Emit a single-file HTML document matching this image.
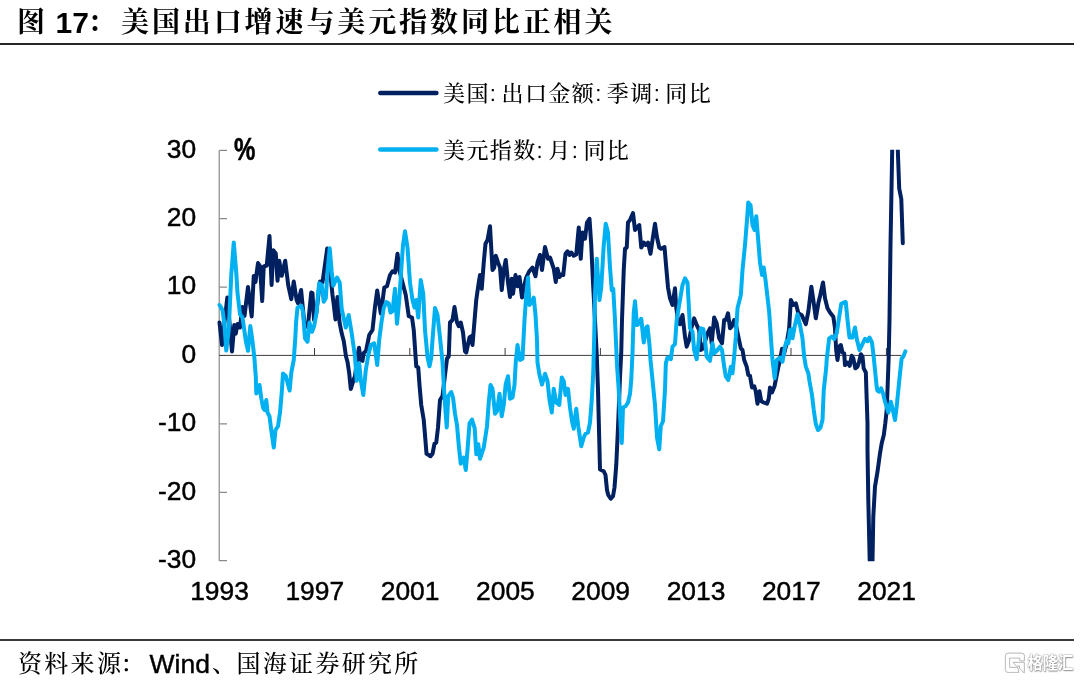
<!DOCTYPE html>
<html lang="zh-CN">
<head>
<meta charset="utf-8">
<title>图 17: 美国出口增速与美元指数同比正相关</title>
<style>
html,body{margin:0;padding:0;background:#fff;}
body{width:1080px;height:680px;position:relative;overflow:hidden;font-family:"Liberation Sans","Noto Serif CJK SC",serif;color:#000;}
.abs{position:absolute;white-space:nowrap;line-height:1;}
#title{left:0;top:6px;font-size:28px;font-weight:700;letter-spacing:2.9px;width:700px;height:34px;}
#title span{position:absolute;top:0;line-height:34px;}
#title .lat{font-size:30px;letter-spacing:0;}
#rule1{left:0;top:43.2px;width:1074.3px;height:1.7px;background:#262626;}
#rule2{left:0;top:639.2px;width:1074.3px;height:1.7px;background:#3a3a3a;}
#src{left:0;top:648px;font-weight:500;font-size:24px;letter-spacing:2.3px;width:600px;height:32px;}
#src span{position:absolute;top:0;line-height:32px;}
#src .lat{font-size:26.5px;letter-spacing:0;font-weight:400;-webkit-text-stroke:0.4px #000;}
.leg{font-weight:500;font-size:22px;letter-spacing:1.4px;word-spacing:-3.3px;}
#wm{left:1027.5px;top:654.3px;font-size:15.3px;line-height:18px;color:#fff;font-family:"Liberation Sans","Noto Sans CJK SC",sans-serif;font-weight:700;text-shadow:0 0 1.4px #8a8a8a,0 0 1.4px #9a9a9a,0.4px 0.6px 1.2px #999;transform:scale(1,1.08);transform-origin:0 0;}
svg{position:absolute;left:0;top:0;}
svg text{font-family:"Liberation Sans",sans-serif;font-size:26.4px;fill:#000;stroke:#000;stroke-width:0.45px;}
</style>
</head>
<body>
<div id="title" class="abs"><span style="left:17px">图</span><span class="lat" style="left:55.5px">17</span><span style="left:87.5px">：</span><span style="left:121px">美国出口增速与美元指数同比正相关</span></div>
<div id="rule1" class="abs"></div>
<div id="l1" class="abs leg" style="left:443px;top:83px;">美国: 出口金额: 季调: 同比</div>
<div id="l2" class="abs leg" style="left:443px;top:139.5px;">美元指数: 月: 同比</div>
<svg width="1080" height="680" viewBox="0 0 1080 680">
<!-- legend swatches -->
<line x1="380.3" y1="93" x2="436.4" y2="93" stroke="#002060" stroke-width="4.5" stroke-linecap="round"/>
<line x1="380.3" y1="149.4" x2="436.4" y2="149.4" stroke="#00b0f0" stroke-width="4.5" stroke-linecap="round"/>
<!-- axes -->
<g stroke="#8a8a8a" stroke-width="1.2" fill="none">
<path d="M219.2 150.3V560.7"/>
<path d="M219.2 150.3H227M219.2 218.7H227M219.2 287.1H227M219.2 355.5H227M219.2 423.9H227M219.2 492.3H227M219.2 560.7H227"/>
</g>
<g stroke="#3c3c3c" stroke-width="1" fill="none">
<path d="M219.2 355.4H901.5"/>
<path d="M314.5 355.4v-7.4M409.8 355.4v-7.4M505.1 355.4v-7.4M600.4 355.4v-7.4M695.7 355.4v-7.4M791 355.4v-7.4M886.4 355.4v-7.4"/>
</g>
<g text-anchor="end">
<text x="196.2" y="157.6">30</text>
<text x="196.2" y="226.0">20</text>
<text x="196.2" y="294.4">10</text>
<text x="196.2" y="362.8">0</text>
<text x="196.2" y="431.2">-10</text>
<text x="196.2" y="499.6">-20</text>
<text x="196.2" y="568.0">-30</text>
</g>
<text x="233.6" y="159" font-weight="700" font-size="24.4" stroke="none" transform="translate(21.5,-24.1) scale(0.91,1.16)">%</text>
<g text-anchor="middle">
<text x="219.5" y="600">1993</text>
<text x="314.8" y="600">1997</text>
<text x="410.1" y="600">2001</text>
<text x="505.4" y="600">2005</text>
<text x="600.7" y="600">2009</text>
<text x="696.0" y="600">2013</text>
<text x="791.3" y="600">2017</text>
<text x="886.6" y="600">2021</text>
</g>
<!--SERIES-->
<defs><clipPath id="plot"><rect x="215" y="149.8" width="700" height="411.5"/></clipPath></defs>
<g clip-path="url(#plot)" fill="none" stroke-linejoin="round" stroke-linecap="round" stroke-width="4">
<path stroke="#002060" d="M219.5,322.5 222,345 227.3,297.5 232,351.5 234.25,325 235.75,333.75 237.5,324 240,327.5 242.4,307 244.5,316 248,287 251.7,316.5 253.75,276 255.5,282 258,263 260,266 262.2,301 263.75,266.5 266.75,265.5 269.5,236 271.6,285 273.25,250.3 275.75,253.5 277.5,280.7 279.25,260.8 281.75,275.8 285.2,260.8 288.2,285 291.25,299.2 293.75,281.5 296.6,300 298,303.25 301.1,290 304.5,325 305.5,327 308.25,322.5 311.25,292.5 312.5,293 314,320 316,315 320,281.5 322.5,282.5 327.2,248.5 330,270 332.5,295 333.8,305 335.5,319.4 337.5,297 339.5,322 341.7,333.3 343.75,341 346,356.5 347.5,361.7 349.2,373.3 350.8,389 353.3,380.8 355,376 357.5,356.7 359,347.7 360.8,360 362.5,360.8 363.75,353 366,351 368.75,337.5 369.2,335 372.5,330 375,306.7 377.2,290.5 379,302 380.8,313.5 382.7,300 384.25,287.5 387,286.25 390,275 392.5,271.25 395,272.5 397.5,253.75 399.25,270 402.5,282.5 405.75,295 408.75,316.25 412,317.5 413.75,330 415.5,355.5 416.25,366.25 418.25,367.5 419.5,385 421.25,405 423.75,420 425,435 426.5,453.75 428.75,455 430.5,456.25 432.5,453.75 434.5,443.75 436.25,442.5 438,427.5 440,400 442.5,396 445,375 447,358.75 448.75,356.25 450,322.5 452.5,320 454.5,307 457,322.5 458.75,326.25 460.75,322.5 463,332.5 465,351.25 466.25,352.5 469.5,337.5 471.25,336.25 472.5,345 476.25,300 478.75,282.5 480,275 481.75,288.75 483.75,262.5 485.5,243.75 487.5,240 490,226.25 492.5,270 494.25,267.5 495.75,255.75 498,262.5 500,267.5 501.75,290 503.75,270 505.75,260 508,282.5 510,297 511.75,278.75 513,293.75 515.5,275 517.5,286.25 519.5,277 522,297.5 523.75,287.5 526.25,277.5 529.25,271.25 532.5,267.5 535.5,276.25 537.5,262.5 540,255 542,270 545,247 548,258.75 550,257.5 553.75,268.75 555.75,282 557.5,268.75 559.5,277 561.25,274.5 563.25,275 565.5,253.75 567.5,251.25 569.5,255 571.25,252.5 573.75,255.75 576.25,254.5 578.75,227.5 580.75,258.75 582.5,232.5 585,238.75 587,222.5 589.5,218.75 591.25,245 593,282.5 595,320 596.75,355 598,390 599.25,440 600,469.5 603.75,471.25 605.5,475 607,490 608.25,495 610.75,498.75 613,496.25 614.5,487.5 616.25,465 618,427.5 620,377.5 621.25,352.5 622,320 623.75,270 625,248.75 626.75,247.5 628,222.5 630,220 633,213 635,230 637,227.5 639.25,225 641.25,247.5 643.75,242.5 645.75,245 648,242.5 650.5,253.75 652.5,240 655,223.75 657,237.5 659.25,247.5 661.25,248.75 664.5,247 666.25,267.5 668,287.5 670,298.33 672.5,305 675,288.33 676.17,306.67 678.33,323.33 680,324.17 682.5,315 685,336.67 686.67,346.67 689.17,340 691.67,326.67 694.17,318.33 696.67,325 699.17,330 700.83,350 703,348.33 705,341.67 707.5,333.33 710,328.33 711.67,343.33 714.17,317.5 716.67,323.33 719.17,338.33 722,343.33 724.17,320 725.83,320 728,313.33 730,328.33 731.67,326.67 734.17,320 736.67,328.33 738.33,336.67 740.83,348.33 742.5,350 744.17,360 746.67,366.67 748.33,375 750,375.83 752,387.5 754.25,386.25 755.75,391.25 757.5,403.75 759.5,391.25 761.25,401.25 763.75,402.5 767,403.75 768.75,398.75 770,387.5 772,392.5 774.5,386.25 776.25,377.5 778.25,367.5 780,360 782,348.75 784.17,353.33 786.67,343.33 789.17,328.33 790.83,300 793.33,305 795.83,303.33 798.33,313.33 801.67,315 805.83,324.17 808.33,311.67 811.33,286.67 813.33,300 815.83,318.33 818.33,303.33 820.33,295 823,282.5 825,298.33 827.5,308.33 830,312.5 833.33,316.67 835,328.33 836.17,350 837.5,360 839.17,346.67 840.83,345 842.5,352.5 844.17,353.33 845,365 847.5,362.5 849.67,365.83 851.67,355.83 853.33,358.33 855.33,368.33 857.5,366.67 859.17,361.67 860.83,354.17 862.5,356.67 863.67,368.33 865.83,372.5 866.67,398.33 867.5,423.33 867.5,450 868.3,500 869.7,560 871,580 872.5,561.3 873.3,516.7 875,486.7 877.5,471.7 880,453.3 881.7,443.3 883.8,435 885.3,423.3 886.7,410 887.5,390 888.7,356.7 889.5,320 890.5,245 892.2,150 893,110 896,100 897.5,110 897.8,150 899.2,188.3 901.3,199.2 902.8,243.3"/>
<path stroke="#00b0f0" d="M219.5,305 222.5,310 224.5,325 226.25,350.5 228.75,330 231.25,275 233.75,242.5 236.25,272.5 237.5,293 240,314.2 242.5,317.5 245.8,341 248,350.8 250.3,326 252.3,340 254.3,357 255.8,376.7 256.3,393.5 257.5,392.5 259.5,385 261.4,399 263,407.5 264.5,410 266.25,400 267.5,412.5 269.5,416.25 271.25,430 273.75,447.5 275.5,430 278,426.25 280,412.5 281.75,392.5 283,373.5 285.8,376 289.6,390.5 291.4,372 293.75,360 295.5,335 296,323 297.5,307.5 301.3,305.8 303,311.7 305,338.3 307.5,341.7 309.5,322.5 312,331.7 314.2,325.8 316.7,311.7 318.3,291 319.2,283.3 321.7,285 323.7,301.7 325.8,298.3 327.5,271.7 329.7,248.3 331.7,271.7 333.3,285.8 337,277.5 339.7,282.5 341.7,309 345.8,327.5 348.7,315 351.7,333.3 355,356.7 356.7,380.8 359.2,363.3 360.8,380 363.3,395 365.8,370 368.3,355 370.8,345 374.2,343.3 377.2,365 379.2,340 381.5,322 383.75,308 386.25,302 388.75,303.5 390.5,312.5 392.5,311.25 395,288.75 397,323.75 399.25,300 401.25,270 403,245 405,231.25 407.5,247.5 410,282.5 412.5,300 414.5,307.5 416.25,300 418.25,317.5 420.75,280 423.25,293.75 425,330 427.5,357 429.5,366.25 431.25,357.5 432.5,340 435,308 437.5,315 440,337.5 442.5,362 444.5,397.5 446.75,427.5 448.25,396.25 451.25,392 453,397.5 455,413.75 457,425 458.75,445 460.75,463.75 463.75,457.5 465.75,470 467.5,450 469.5,423.3 472,419.5 474.7,428.3 476.3,454.2 478.3,444.2 480,458.75 483.75,447.5 487,426.25 488.75,402.5 490.5,385 492.5,388.75 495,413.75 497,411.25 499.5,393.75 501.75,416.25 503.75,405 505.75,383.75 508,376.25 510,398.75 512.5,397.5 514.5,385 515.75,362.5 517.5,345 520,360 522.5,358.75 524.5,320 526.25,295 528,277.5 529.5,305 531.75,302.5 533.75,297.5 535.5,315 537,340 537.5,362.5 539.5,375 542,384.5 545,373.75 547.5,381.25 549.5,400 551.75,412.5 553.75,388.75 556.25,402.5 559.25,405 561.75,377.5 563.75,381.25 565.5,395 568,388.75 570,407.5 572,421.25 573.75,428.75 576.25,408.75 578.25,426.25 581.25,446.25 583.75,437.5 585.5,433.75 588,432.5 590,422.5 591.75,400 593.25,372.5 594.25,335 595,295 596.75,258.75 598,277.5 599.5,300 601.25,287.5 603.75,245 605.75,223.75 608,232.5 610,267.5 611.75,290 613.25,288.75 615,320 617,365 618.75,390 620,415 621.75,443 623,407.5 625.5,406.25 628,402.5 630,393.75 631.25,380 632.5,352.5 633.75,312.5 635,301.25 637,325 638.75,323.75 641.25,318.75 643.75,342.5 646.25,327.5 647.5,326.25 649.5,345 650.5,360 652.5,380 655,405 657,437.5 659.25,449.25 660.75,426.25 663,421.25 665,390 665.83,363.33 667.5,357.5 670.83,359.17 672.5,346.67 675,344.17 676.67,320 680,300 682.5,285 685,278.33 687.5,282.5 688.67,303.33 690,328.33 692.5,331.67 694.17,350 696.67,359.17 699.17,336.67 700.83,328.33 703.33,329.17 705,340 706.67,356.67 710,360.83 712.5,343.33 714.17,353.33 717.5,350 720,346.67 722,350 724.17,366.67 725.83,376.67 728.33,380 730.83,366.67 732.5,373.33 734.17,356.67 735.83,336.67 737.5,308.33 740.83,295 742.5,270 745,245 747,220 748.25,202.5 750.5,205 752.5,225 754.5,230 756.25,216.25 758,237.5 760,262.5 762,275 763.75,267.5 765.5,280 769.17,311.67 770.83,336.67 772.5,360 774.67,378.33 776.67,360 780,357.5 782.5,361.67 785,346.67 786.67,340.83 788.33,343.33 790,330 791.67,329.17 792.5,338.33 795,325 797.5,314.17 800,325 802.5,338.33 804.17,356.67 805.83,366.67 808.33,373.33 809.5,381.25 812,395 813.75,410 815.75,423.75 818,430 820.5,427.5 822.5,420 823.75,390 826.25,367.5 826.67,360 829.17,338.33 831.67,336.67 834.17,339.17 836.67,333.33 838.75,320 841.25,303.75 843.75,302.5 845.75,302 847.5,320 849.5,337.5 852.5,337.5 855,327.5 857,340 859.5,350 862,345 865,338.75 867.5,341.25 869.5,337.5 872,342.5 873.75,357.5 875,370 876.67,386.67 877.5,390.83 879.17,391.67 881.17,388.33 883,393.33 885,401.67 886.67,406.67 888.33,412.5 890.83,401.67 892.5,408.33 895,420 896.67,406.67 898.33,390 900,373.33 901.67,358.33 903.33,356.67 905.33,351.33"/>
</g>
<!--/SERIES-->
<!-- watermark logo -->
<defs><filter id="ws" x="-20%" y="-20%" width="140%" height="140%"><feMorphology in="SourceAlpha" operator="dilate" radius="0.35"/><feGaussianBlur stdDeviation="0.6"/><feOffset dx="0.25" dy="0.35" result="b"/><feFlood flood-color="#7d7d7d" flood-opacity="0.9"/><feComposite in2="b" operator="in"/><feMerge><feMergeNode/><feMergeNode in="SourceGraphic"/></feMerge></filter></defs>
<g filter="url(#ws)" fill="#fff" stroke="#b0b0b0" stroke-width="0.6" stroke-linejoin="round">
<path d="M1008.3 653.2H1021.6Q1024.4 653.2 1024.4 656V660.7H1019.9V657.9H1009.6V667.4H1017.6L1018.6 672.4H1008.3Q1005.4 672.4 1005.4 669.5V656Q1005.4 653.2 1008.3 653.2Z"/>
<path d="M1013.1 662.4H1024.2V672.8L1019.3 668.3L1019.9 666H1016.6Z"/>
</g>
</svg>
<div id="rule2" class="abs"></div>
<div id="src" class="abs"><span style="left:18px">资料来源</span><span style="left:120.5px">：</span><span class="lat" style="left:149.5px">Wind</span><span style="left:212px">、</span><span style="left:236.5px">国海证券研究所</span></div>
<div id="wm" class="abs">格隆汇</div>
</body>
</html>
